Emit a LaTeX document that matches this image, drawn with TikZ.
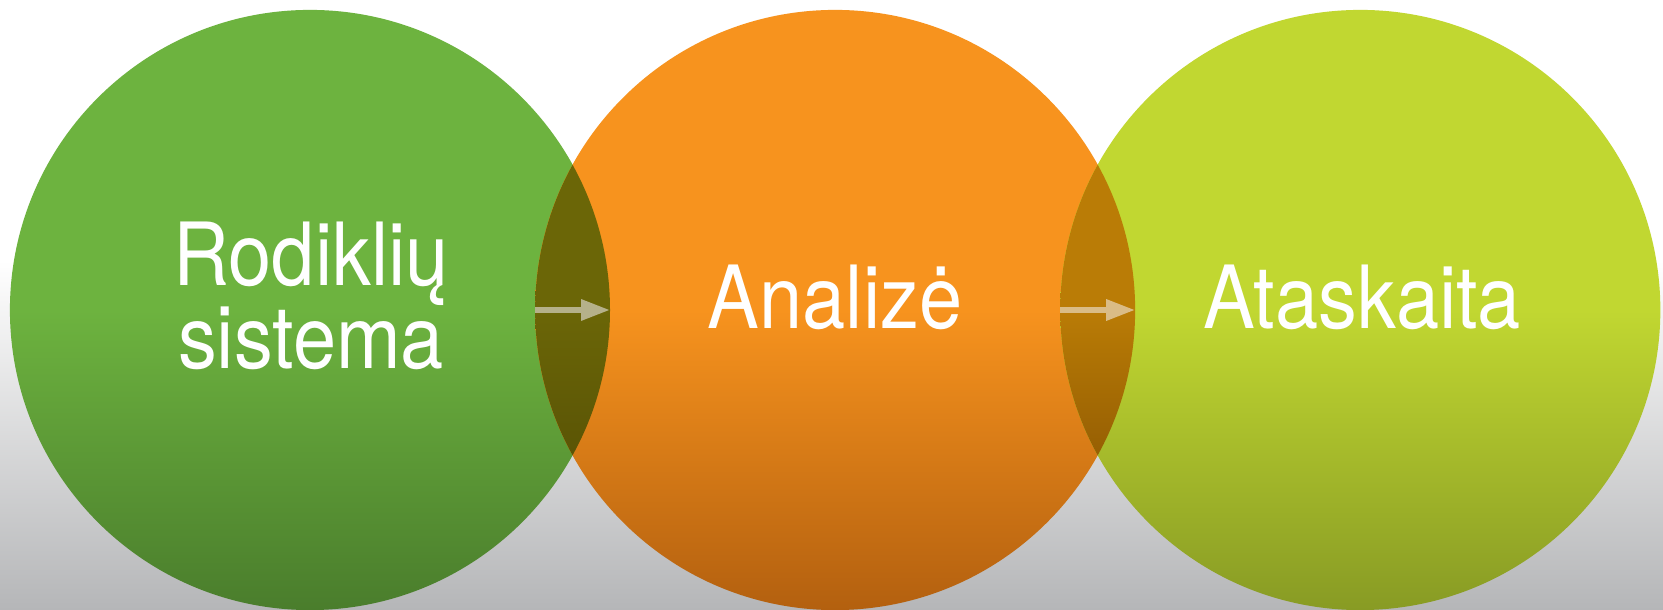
\documentclass[tikz,border=0pt]{standalone}
\usepackage{fontspec}
\newfontfamily\wordfont{TeX Gyre Heros}[FakeStretch=0.89]
\usetikzlibrary{arrows.meta,positioning}

\definecolor{grnTop}{HTML}{6DB33F}
\definecolor{grnBot}{HTML}{4A7D2C}
\definecolor{orgTop}{HTML}{F7931E}
\definecolor{orgBot}{HTML}{B3600F}
\definecolor{limTop}{HTML}{C1D731}
\definecolor{limBot}{HTML}{889B24}
\definecolor{lensAtop}{HTML}{6B6607}
\definecolor{lensAbot}{HTML}{494203}
\definecolor{lensBtop}{HTML}{BA7C06}
\definecolor{lensBbot}{HTML}{704000}
\definecolor{arrA}{HTML}{B5B18A}
\definecolor{arrB}{HTML}{DABC86}
\definecolor{bgGray}{HTML}{B5B6B8}

\begin{document}
\begin{tikzpicture}[x=0.025cm,y=0.025cm,node distance=13.125cm,on grid,
    disc/.style={circle,minimum size=15cm,inner sep=0pt,outer sep=0pt},
    txt/.style={text=white,font=\wordfont\fontsize{62pt}{56pt}\selectfont,align=center},
    flow/.style={draw=#1,line width=0.15cm,-{Triangle[length=0.725cm,width=0.5cm]}}]
    \useasboundingbox (0,0) rectangle (1663,610);
    \fill[white] (0,0) rectangle (1663,610);
    \shade[top color=white,bottom color=bgGray] (0,0) rectangle (1663,350);

    \node[disc,top color=grnTop,bottom color=grnBot,middle color=grnTop] (rod) at (310,300) {};
    \node[disc,top color=orgTop,bottom color=orgBot,middle color=orgTop] (ana) [right=of rod] {};
    \node[disc,top color=limTop,bottom color=limBot,middle color=limTop] (ata) [right=of ana] {};

    % overlaps
    \begin{scope}
        \clip (rod.center) circle [radius=300];
        \shade[top color=lensAtop,bottom color=lensAbot,middle color=lensAtop] (ana.center) circle [radius=300];
    \end{scope}
    \begin{scope}
        \clip (ana.center) circle [radius=300];
        \shade[top color=lensBtop,bottom color=lensBbot,middle color=lensBtop] (ata.center) circle [radius=300];
    \end{scope}

    \node[txt,anchor=base] (rodtxt) at (311,241) {Rodiklių\\sistema};
    \node[txt,anchor=base] (anatxt) at (835,281) {Analizė};
    \node[txt,anchor=base] (atatxt) at (1362,281) {Ataskaita};

    \path
    (ana.west) edge[flow=arrA] (rod.east)
    (ata.west) edge[flow=arrB] (ana.east);
\end{tikzpicture}
\end{document}
